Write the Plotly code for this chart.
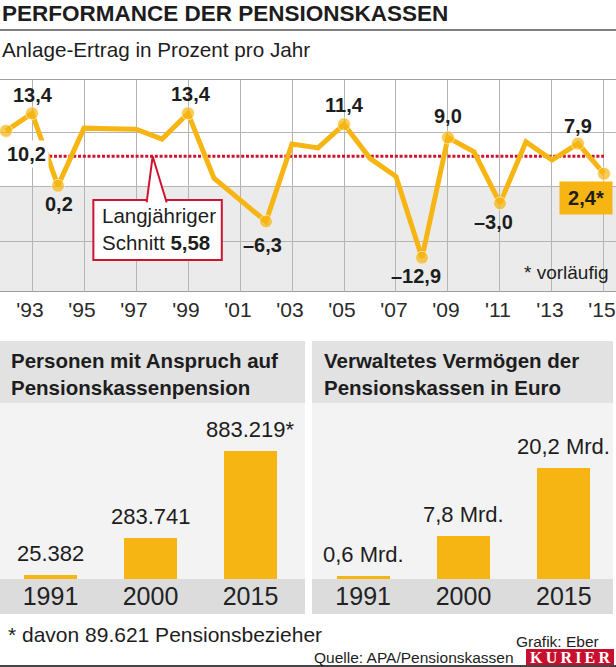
import plotly.graph_objects as go

# ---------------- data ----------------
years = list(range(1992, 2016))
returns = [10.2, 13.4, 0.2, 10.7, 10.6, 10.5, 8.7, 13.4, 1.6, -2.4, -6.3, 7.8,
           7.1, 11.4, 5.2, 1.9, -12.9, 9.0, 6.4, -3.0, 8.2, 4.9, 7.9, 2.4]
mean_return = 5.58
label_years = [1992, 1993, 1994, 1999, 2002, 2005, 2008, 2009, 2011, 2014]
label_texts = ["10,2", "13,4", "0,2", "13,4", "–6,3", "11,4", "–12,9", "9,0", "–3,0", "7,9"]
provisional_year = 2015
provisional_text = "2,4*"
tick_years = list(range(1993, 2016, 2))
tick_labels = ["'93", "'95", "'97", "'99", "'01", "'03", "'05", "'07", "'09", "'11", "'13", "'15"]

bar_years = ["1991", "2000", "2015"]
persons = [25382, 283741, 883219]
persons_labels = ["25.382", "283.741", "883.219*"]
wealth = [0.6, 7.8, 20.2]
wealth_labels = ["0,6 Mrd.", "7,8 Mrd.", "20,2 Mrd."]

# ---------------- style ----------------
W, H = 616, 667
YELLOW = "#F6B512"
RED = "#CF1430"
DARK = "#1d1d1d"
GRID = "#b4b4b4"
SANS = "Liberation Sans, Arial, sans-serif"
SERIF = "Liberation Serif, serif"

def py(p):
    return 1 - p / H

def px_(p):
    return p / W

# label offsets (xshift, yshift, xanchor) in pixels
label_offsets = {
    1992: (-2, -23, "left"), 1993: (1, 18.5, "center"), 1994: (1, -18, "center"),
    1999: (3, 19, "center"), 2002: (-4, -23.5, "center"), 2005: (0, 19, "center"),
    2008: (-6, -18, "center"), 2009: (0, 21.5, "center"), 2011: (-6, -19, "center"),
    2014: (0, 17.5, "center"),
}

fig = go.Figure()

# mean line
fig.add_trace(go.Scatter(
    x=[years[0], years[-1]], y=[mean_return, mean_return], mode="lines",
    line=dict(color=RED, width=3, dash="3px,1.8px"), hoverinfo="skip", showlegend=False,
    xaxis="x", yaxis="y"))

# performance line
marked = set(label_years + [provisional_year])
fig.add_trace(go.Scatter(
    x=years, y=returns, mode="lines+markers",
    line=dict(color=YELLOW, width=5),
    marker=dict(size=[13 if y in marked else 0 for y in years], color=YELLOW,
                line=dict(color="#fff6d8", width=1)),
    showlegend=False, xaxis="x", yaxis="y"))

# bars (positions = category index, labelled through the axis ticks)
bar_pos = list(range(len(bar_years)))
fig.add_trace(go.Bar(
    x=bar_pos, y=persons, marker=dict(color=YELLOW, line=dict(width=0)), width=0.53,
    showlegend=False, xaxis="x2", yaxis="y2"))
fig.add_trace(go.Bar(
    x=bar_pos, y=wealth, marker=dict(color=YELLOW, line=dict(width=0)), width=0.53,
    showlegend=False, xaxis="x3", yaxis="y3"))

shapes = []
annotations = []

bar_font = dict(family=SANS, size=22, color=DARK)
for xr, yref_, vals, labs in [("x2", "y2", persons, persons_labels), ("x3", "y3", wealth, wealth_labels)]:
    for i, v, lab in zip(bar_pos, vals, labs):
        annotations.append(dict(xref=xr, yref=yref_, x=i, y=v, text=lab, showarrow=False,
                                xanchor="center", yanchor="bottom", yshift=7, font=bar_font))

# negative-area shading in line chart
shapes.append(dict(type="rect", xref="paper", yref="y", x0=0, x1=1, y0=-18.96, y1=0,
                   fillcolor="#ebebeb", line=dict(width=0), layer="below"))

# callout box with pointer
bx0, bx1 = 1995.36, 2000.30
by0, by1 = -13.3, -2.39
shapes.append(dict(type="rect", xref="x", yref="y", x0=bx0, x1=bx1, y0=by0, y1=by1,
                   fillcolor="white", line=dict(color=RED, width=2), layer="above"))
shapes.append(dict(type="path", xref="x", yref="y",
                   path=f"M 1997.41,{by1-0.45} L 1997.64,{mean_return} L 1998.18,{by1-0.45}",
                   fillcolor="white", line=dict(color=RED, width=2), layer="above"))
annotations.append(dict(xref="x", yref="y", x=1995.62, y=-7.75, xanchor="left", yanchor="middle",
                        align="left", showarrow=False,
                        text="Langjähriger<br>Schnitt <b>5,58</b>",
                        font=dict(family=SANS, size=20.5, color=DARK)))

# point labels
for yr, txt in zip(label_years, label_texts):
    xs, ys, xa = label_offsets[yr]
    val = returns[years.index(yr)]
    ann = dict(xref="x", yref="y", x=yr, y=val, text=f"<b>{txt}</b>", showarrow=False,
               xanchor=xa, yanchor="middle", xshift=xs, yshift=ys,
               font=dict(family=SANS, size=20, color=DARK))
    if yr == years[0]:
        ann.update(bgcolor="white", borderpad=2)
    annotations.append(ann)

# provisional value box
annotations.append(dict(xref="x", yref="y", x=provisional_year,
                        y=returns[years.index(provisional_year)],
                        text=f"<b>{provisional_text}</b>", showarrow=False,
                        xanchor="right", yanchor="middle", xshift=9, yshift=-24,
                        bgcolor=YELLOW, width=50, height=30,
                        font=dict(family=SANS, size=20, color=DARK)))
annotations.append(dict(xref="paper", yref="paper", x=px_(611), y=py(272), xanchor="right",
                        yanchor="middle", showarrow=False, text="* vorläufig",
                        font=dict(family=SANS, size=19, color=DARK)))

# title block
annotations.append(dict(xref="paper", yref="paper", x=0, y=py(13), xanchor="left", yanchor="middle",
                        showarrow=False, text="<b>PERFORMANCE DER PENSIONSKASSEN</b>",
                        font=dict(family=SANS, size=22.5, color=DARK)))
shapes.append(dict(type="line", xref="paper", yref="paper", x0=0, x1=1, y0=py(30), y1=py(30),
                   line=dict(color="#555555", width=1.5)))
annotations.append(dict(xref="paper", yref="paper", x=0, y=py(50), xanchor="left", yanchor="middle",
                        showarrow=False, text="Anlage-Ertrag in Prozent pro Jahr",
                        font=dict(family=SANS, size=20.7, color=DARK)))

# bar panels backgrounds
for (x0, x1) in [(0, 305), (312, 613)]:
    shapes.append(dict(type="rect", xref="paper", yref="paper", x0=px_(x0), x1=px_(x1),
                       y0=py(403), y1=py(341), fillcolor="#e2e2e2", line=dict(width=0), layer="below"))
    shapes.append(dict(type="rect", xref="paper", yref="paper", x0=px_(x0), x1=px_(x1),
                       y0=py(579), y1=py(403), fillcolor="#f3f3f3", line=dict(width=0), layer="below"))
    shapes.append(dict(type="rect", xref="paper", yref="paper", x0=px_(x0), x1=px_(x1),
                       y0=py(614), y1=py(579), fillcolor="#dcdcdc", line=dict(width=0), layer="below"))

annotations.append(dict(xref="paper", yref="paper", x=px_(9), y=py(374), xanchor="left", yanchor="middle",
                        align="left", showarrow=False,
                        text="<b>Personen mit Anspruch auf<br>Pensionskassenpension</b>",
                        font=dict(family=SANS, size=20.5, color=DARK)))
annotations.append(dict(xref="paper", yref="paper", x=px_(322), y=py(374), xanchor="left", yanchor="middle",
                        align="left", showarrow=False,
                        text="<b>Verwaltetes Vermögen der<br>Pensionskassen in Euro</b>",
                        font=dict(family=SANS, size=20.5, color=DARK)))

# footer
annotations.append(dict(xref="paper", yref="paper", x=px_(6), y=py(634), xanchor="left", yanchor="middle",
                        showarrow=False, text="* davon 89.621 Pensionsbezieher",
                        font=dict(family=SANS, size=21, color=DARK)))
annotations.append(dict(xref="paper", yref="paper", x=px_(601), y=py(641), xanchor="right", yanchor="middle",
                        showarrow=False, text="Grafik: Eber",
                        font=dict(family=SANS, size=15.5, color=DARK)))
annotations.append(dict(xref="paper", yref="paper", x=px_(516), y=py(657.5), xanchor="right", yanchor="middle",
                        showarrow=False, text="Quelle: APA/Pensionskassen",
                        font=dict(family=SANS, size=15.5, color=DARK)))
shapes.append(dict(type="rect", xref="paper", yref="paper", x0=px_(526), x1=px_(614),
                   y0=py(665), y1=py(649), fillcolor="#C8102E", line=dict(width=0)))
annotations.append(dict(xref="paper", yref="paper", x=px_(570), y=py(657.5), xanchor="center", yanchor="middle",
                        showarrow=False, text="<b>K\u2009U\u2009R\u2009I\u2009E\u2009R</b>",
                        font=dict(family=SERIF, size=16, color="white")))
shapes.append(dict(type="line", xref="paper", yref="paper", x0=0, x1=1, y0=py(666), y1=py(666),
                   line=dict(color="#444444", width=2)))

bar_xaxis = dict(tickmode="array", tickvals=bar_pos, ticktext=bar_years, anchor="free",
                 position=py(579), showgrid=False, zeroline=False, showline=False, ticks="",
                 tickfont=dict(family=SANS, size=25, color="#222222"), fixedrange=True)

fig.update_layout(
    width=W, height=H, margin=dict(l=0, r=0, t=0, b=0),
    paper_bgcolor="white", plot_bgcolor="rgba(0,0,0,0)",
    showlegend=False, bargap=0,
    shapes=shapes, annotations=annotations,
    xaxis=dict(domain=[0, 1], range=[1991.769, 2015.462], tickmode="array",
               tickvals=tick_years, ticktext=tick_labels, showgrid=True, gridcolor=GRID,
               gridwidth=1, zeroline=False, showline=True, mirror=True, linecolor="#a0a0a0",
               linewidth=1, ticks="", ticklabeloverflow="allow", ticklabelshift=-2,
               tickfont=dict(family=SANS, size=21, color="#2a2a2a"), anchor="y", fixedrange=True),
    yaxis=dict(domain=[py(291), py(80)], range=[-18.96, 19.47], tickmode="array",
               tickvals=[-10, 0, 10], showticklabels=False, showgrid=True, gridcolor=GRID,
               zeroline=False, showline=False, anchor="x", fixedrange=True),
    xaxis2=dict(domain=[0, px_(305)], range=[-0.505, 2.545], **bar_xaxis),
    yaxis2=dict(domain=[py(579), py(403)], range=[0, 1218000], visible=False, anchor="x2",
                fixedrange=True),
    xaxis3=dict(domain=[px_(312), px_(613)], range=[-0.51, 2.49], **bar_xaxis),
    yaxis3=dict(domain=[py(579), py(403)], range=[0, 31.94], visible=False, anchor="x3",
                fixedrange=True),
)

fig.write_html("out.html", config={"displayModeBar": False},
               post_script="document.body.style.margin='0';document.body.style.overflow='hidden';")
